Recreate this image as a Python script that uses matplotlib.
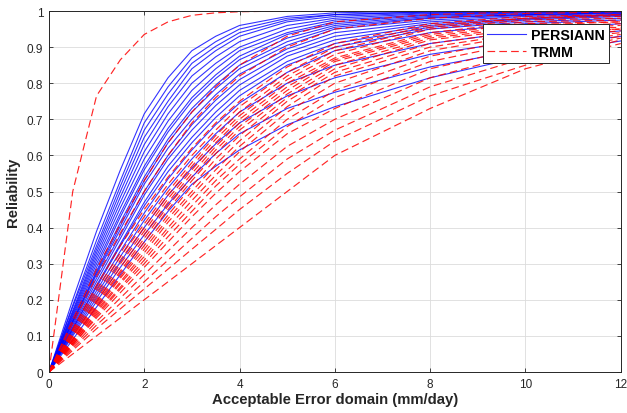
import numpy as np
import matplotlib
matplotlib.use('Agg')
import matplotlib.pyplot as plt

plt.rcParams['font.family'] = ['Liberation Sans', 'DejaVu Sans']

# acceptable error domain (mm/day) where reliability was read
x_domain = [0, 0.5, 1, 1.5, 2, 2.5, 3, 3.5, 4, 5, 6, 8, 10, 12]

# PERSIANN reliability curves (one row per station)
persiann = [
    [0, .20, .39, .56, .715, .815, .89, .93, .96, .985, .995, 1, 1, 1],
    [0, .185, .365, .53, .69, .79, .87, .915, .95, .98, .99, .998, 1, 1],
    [0, .18, .35, .515, .67, .77, .855, .902, .94, .975, .99, .997, 1, 1],
    [0, .17, .34, .50, .65, .75, .84, .89, .93, .97, .985, .995, .999, 1],
    [0, .165, .33, .485, .63, .735, .82, .873, .915, .96, .98, .993, .998, 1],
    [0, .16, .32, .47, .61, .715, .80, .855, .90, .95, .975, .99, .997, .999],
    [0, .155, .31, .455, .59, .695, .78, .84, .89, .94, .97, .988, .995, .998],
    [0, .15, .30, .44, .57, .675, .76, .823, .875, .935, .965, .985, .993, .997],
    [0, .145, .29, .43, .56, .665, .75, .813, .865, .925, .96, .982, .99, .995],
    [0, .14, .28, .415, .54, .645, .73, .795, .85, .915, .955, .98, .99, .995],
    [0, .14, .275, .405, .53, .635, .72, .785, .84, .905, .95, .975, .988, .993],
    [0, .135, .27, .395, .52, .62, .70, .768, .825, .895, .94, .97, .985, .99],
    [0, .13, .26, .38, .50, .60, .685, .753, .81, .885, .93, .965, .98, .99],
    [0, .125, .25, .37, .49, .59, .67, .738, .795, .875, .92, .96, .978, .988],
    [0, .12, .24, .355, .47, .57, .65, .72, .78, .86, .91, .955, .975, .985],
    [0, .12, .235, .35, .46, .555, .635, .705, .765, .85, .90, .95, .97, .98],
    [0, .115, .225, .335, .44, .535, .615, .685, .745, .83, .89, .94, .965, .975],
    [0, .11, .215, .32, .42, .51, .59, .66, .72, .80, .85, .91, .945, .965],
    [0, .105, .205, .305, .40, .49, .565, .632, .69, .765, .815, .88, .92, .945],
    [0, .10, .195, .29, .38, .465, .54, .605, .66, .73, .775, .845, .895, .93],
    [0, .09, .18, .27, .36, .445, .52, .57, .615, .685, .735, .815, .875, .917],
]

# TRMM reliability curves
trmm = [
    [0, .50, .765, .865, .935, .97, .988, .995, .998, 1, 1, 1, 1, 1],
    [0, .145, .285, .41, .53, .635, .72, .79, .85, .93, .97, .99, .998, 1.0],
    [0, .135, .265, .385, .50, .60, .69, .76, .82, .90, .95, .98, .993, .998],
    [0, .12, .24, .35, .45, .54, .62, .69, .75, .845, .91, .965, .985, .99],
    [0, .115, .23, .33, .43, .52, .60, .67, .735, .83, .90, .96, .98, .99],
    [0, .11, .22, .32, .41, .50, .58, .655, .72, .82, .89, .955, .98, .985],
    [0, .105, .21, .31, .40, .49, .57, .645, .71, .81, .88, .95, .975, .98],
    [0, .10, .20, .30, .39, .48, .56, .635, .70, .80, .87, .94, .97, .975],
    [0, .10, .195, .29, .38, .47, .55, .625, .69, .79, .865, .935, .965, .97],
    [0, .095, .19, .28, .37, .46, .54, .615, .68, .78, .86, .93, .96, .97],
    [0, .09, .185, .275, .36, .45, .53, .605, .67, .77, .85, .925, .955, .965],
    [0, .09, .18, .265, .35, .435, .515, .59, .655, .76, .84, .92, .95, .96],
    [0, .085, .175, .26, .34, .425, .50, .575, .64, .75, .83, .91, .945, .955],
    [0, .085, .17, .25, .33, .415, .49, .56, .625, .735, .82, .90, .94, .95],
    [0, .08, .165, .245, .32, .40, .475, .545, .61, .72, .80, .89, .935, .95],
    [0, .08, .16, .235, .31, .39, .46, .53, .59, .70, .78, .875, .925, .945],
    [0, .075, .155, .23, .30, .375, .445, .515, .575, .68, .76, .86, .915, .94],
    [0, .075, .15, .22, .29, .36, .43, .495, .555, .66, .73, .84, .90, .935],
    [0, .07, .14, .205, .27, .335, .40, .463, .52, .625, .70, .815, .885, .93],
    [0, .065, .13, .19, .25, .31, .37, .43, .485, .59, .67, .79, .87, .925],
    [0, .06, .12, .175, .23, .285, .34, .395, .45, .55, .64, .765, .85, .92],
    [0, .05, .10, .15, .20, .25, .30, .35, .40, .50, .60, .73, .84, .91],
]

fig = plt.figure(figsize=(6.27, 4.14), dpi=100)
ax = fig.add_axes([0.078, 0.099, 0.912, 0.872])

for i, yy in enumerate(persiann):
    ax.plot(x_domain, yy, color='b', lw=0.8, alpha=0.8,
            label='PERSIANN' if i == 0 else None)
for i, yy in enumerate(trmm):
    ax.plot(x_domain, yy, color='r', lw=0.85, alpha=0.85, linestyle=(0, (6.5, 3.5)),
            label='TRMM' if i == 0 else None)

ax.set_xlim(0, 12)
ax.set_ylim(0, 1)
ax.set_xticks(np.arange(0, 13, 2))
ax.set_yticks(np.arange(0, 1.01, 0.1))
ax.set_yticklabels(['0', '0.1', '0.2', '0.3', '0.4', '0.5', '0.6', '0.7', '0.8', '0.9', '1'])
ax.grid(True, color='#dcdcdc', lw=0.6)
ax.set_axisbelow(True)
ax.tick_params(direction='in', top=True, right=True, length=3, width=0.6,
               labelsize=8.5, colors='#262626', pad=4)
for s in ax.spines.values():
    s.set_color('#262626')
    s.set_linewidth(0.7)

ax.set_xlabel('Acceptable Error domain (mm/day)', fontsize=10.7, fontweight='bold', color='#262626', labelpad=2)
ax.set_ylabel('Reliability', fontsize=10.7, fontweight='bold', color='#262626', labelpad=5)

leg = ax.legend(loc='upper right', bbox_to_anchor=(0.979, 0.964), borderaxespad=0,
                fancybox=False, framealpha=1, edgecolor='#262626',
                prop={'weight': 'bold', 'size': 10.3}, handlelength=2.7,
                borderpad=0.3, labelspacing=0.2, handletextpad=0.35)
leg.get_frame().set_linewidth(0.7)

fig.savefig('out.png', dpi=100)
